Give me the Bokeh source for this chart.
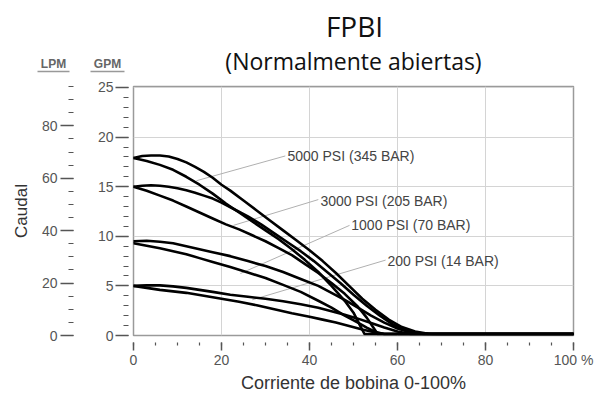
from bokeh.plotting import figure
from bokeh.layouts import column, row
from bokeh.models import LinearAxis, Range1d, SingleIntervalTicker
from bokeh.core.properties import value
from bokeh.embed import file_html
from bokeh.resources import INLINE

# ---- data (GPM vs coil current %) ----
x5000_up = [0, 2, 4, 6, 8, 10, 12, 14, 16, 18, 20, 22, 25, 28, 31, 34, 37, 40, 43, 46, 49, 52, 55, 58, 61, 64, 67, 70, 100]
y5000_up = [17.9, 18.1, 18.15, 18.15, 18.05, 17.8, 17.45, 17.0, 16.5, 15.9, 15.2, 14.6, 13.6, 12.6, 11.6, 10.6, 9.6, 8.6, 7.5, 6.3, 5.0, 3.7, 2.6, 1.6, 0.85, 0.4, 0.18, 0.15, 0.15]
x5000_dn = [0, 3, 6, 9, 12, 15, 18, 21, 24, 27, 30, 33, 36, 39, 42, 45, 48, 50, 51.5, 52.5, 100]
y5000_dn = [17.9, 17.6, 17.2, 16.7, 16.0, 15.2, 14.3, 13.3, 12.4, 11.5, 10.6, 9.7, 8.7, 7.6, 6.4, 5.0, 3.5, 2.3, 1.0, 0.15, 0.15]

x3000_up = [0, 2, 4, 6, 8, 10, 12, 14, 16, 18, 20, 23, 26, 29, 32, 35, 38, 41, 44, 47, 50, 53, 56, 59, 62, 65, 68, 100]
y3000_up = [15.0, 15.1, 15.15, 15.1, 15.0, 14.85, 14.65, 14.4, 14.1, 13.8, 13.4, 12.7, 12.0, 11.2, 10.3, 9.4, 8.5, 7.5, 6.4, 5.3, 4.1, 3.0, 2.0, 1.1, 0.5, 0.2, 0.15, 0.15]
x3000_dn = [0, 3, 6, 9, 12, 15, 18, 21, 24, 27, 30, 33, 36, 39, 42, 45, 48, 51, 53, 54.5, 55.5, 100]
y3000_dn = [15.0, 14.6, 14.1, 13.6, 13.0, 12.4, 11.8, 11.2, 10.7, 10.1, 9.5, 8.8, 8.1, 7.2, 6.3, 5.3, 4.2, 2.9, 1.8, 0.8, 0.15, 0.15]

x1000_up = [0, 3, 6, 9, 12, 15, 18, 22, 26, 30, 34, 38, 42, 45, 48, 51, 54, 57, 60, 63, 66, 100]
y1000_up = [9.5, 9.55, 9.45, 9.3, 9.0, 8.7, 8.4, 8.0, 7.5, 7.0, 6.4, 5.7, 5.0, 4.3, 3.6, 2.8, 2.0, 1.3, 0.7, 0.3, 0.15, 0.15]
x1000_dn = [0, 3, 6, 9, 12, 15, 18, 22, 26, 30, 34, 38, 42, 45, 48, 51, 53, 55, 57, 100]
y1000_dn = [9.3, 9.05, 8.8, 8.5, 8.2, 7.8, 7.4, 6.9, 6.35, 5.8, 5.1, 4.4, 3.5, 2.8, 2.0, 1.3, 0.8, 0.35, 0.15, 0.15]

x200_up = [0, 3, 6, 9, 12, 15, 18, 22, 26, 30, 34, 38, 42, 45, 48, 51, 54, 57, 60, 63, 100]
y200_up = [5.0, 5.05, 5.05, 4.95, 4.8, 4.6, 4.4, 4.1, 3.9, 3.7, 3.45, 3.15, 2.8, 2.45, 2.1, 1.7, 1.25, 0.8, 0.4, 0.15, 0.15]
x200_dn = [0, 3, 6, 9, 12, 16, 20, 24, 28, 32, 36, 40, 43, 46, 49, 52, 55, 57, 100]
y200_dn = [5.0, 4.8, 4.6, 4.45, 4.3, 4.0, 3.7, 3.4, 3.05, 2.65, 2.25, 1.9, 1.6, 1.3, 0.95, 0.6, 0.3, 0.15, 0.15]

curve_labels = ["5000 PSI (345 BAR)", "3000 PSI (205 BAR)", "1000 PSI (70 BAR)", "200 PSI (14 BAR)"]
label_x = [35.0, 42.5, 49.5, 57.7]
label_y = [18.05, 13.6, 11.1, 7.56]
leader_x0 = [14.3, 22.7, 24.3, 27.0]
leader_y0 = [15.6, 11.1, 6.25, 3.6]
leader_x1 = [34.5, 42.0, 49.1, 57.3]
leader_y1 = [18.1, 13.7, 11.1, 7.6]

x_tick_overrides = {100: "100 %"}

title_text = "FPBI"
subtitle_text = "(Normalmente abiertas)"
unit_headers = ["LPM", "GPM"]

GPM_TO_LPM = 3.785
Y_MAX = 25.1

GRAY = "#555555"
FONT = "Liberation Sans"
W = 598
HEAD_H = 78
MAIN_H = 317

# ---------- header strip (titles + unit headers) ----------
hdr = figure(width=W, height=HEAD_H, x_range=Range1d(0, W), y_range=Range1d(HEAD_H, 0),
             output_backend="svg", toolbar_location=None,
             min_border_left=0, min_border_right=0, min_border_top=0, min_border_bottom=0,
             border_fill_color="white")
hdr.axis.visible = False
hdr.grid.visible = False
hdr.outline_line_color = None
hdr.text(x=[354], y=[25], text=[title_text], text_align="center", text_baseline="middle",
         text_font=value("Open Sans"), text_font_size="28px", text_color="#111111")
hdr.text(x=[353], y=[60], text=[subtitle_text], text_align="center", text_baseline="middle",
         text_font=value("Open Sans"), text_font_size="23px", text_color="#111111")
hdr.text(x=[53, 107], y=[63, 63], text=unit_headers, text_align="center", text_baseline="middle",
         text_font=value(FONT), text_font_size="12px", text_font_style="bold", text_color="#666666")
hdr.segment(x0=[37, 90], y0=[71, 71], x1=[69, 124], y1=[71, 71], line_color="#999999", line_width=1.5)

# ---------- main chart ----------
p = figure(width=W, height=MAIN_H, x_range=Range1d(0, 100), y_range=Range1d(0, Y_MAX),
           output_backend="svg", toolbar_location=None,
           min_border_left=133, min_border_right=25, min_border_top=8, min_border_bottom=60,
           background_fill_color="white", border_fill_color="white")
p.outline_line_color = "#9a9a9a"
p.outline_line_width = 1.5

p.xgrid.ticker = SingleIntervalTicker(interval=20)
p.ygrid.ticker = SingleIntervalTicker(interval=5)
p.grid.grid_line_color = "#d4d4d4"
p.grid.grid_line_width = 1

xa = p.xaxis[0]
xa.ticker = SingleIntervalTicker(interval=20, num_minor_ticks=4)
xa.major_label_overrides = x_tick_overrides
xa.axis_line_color = None
xa.major_tick_in = -7
xa.major_tick_out = 15
xa.minor_tick_in = -7
xa.minor_tick_out = 10
xa.major_tick_line_color = GRAY
xa.minor_tick_line_color = GRAY
xa.major_tick_line_width = 1.5
xa.minor_tick_line_width = 1.2
xa.major_label_text_font = FONT
xa.major_label_text_font_size = "14px"
xa.major_label_text_color = GRAY
xa.major_label_standoff = 1
xa.axis_label = "Corriente de bobina 0-100%"
xa.axis_label_text_font = FONT
xa.axis_label_text_font_size = "18px"
xa.axis_label_text_font_style = "normal"
xa.axis_label_text_color = "#333333"
xa.axis_label_standoff = 2

ya = p.yaxis[0]
ya.ticker = SingleIntervalTicker(interval=5, num_minor_ticks=5)
ya.axis_line_color = None
ya.major_tick_in = -5
ya.major_tick_out = 18
ya.minor_tick_in = -5
ya.minor_tick_out = 10
ya.major_tick_line_color = GRAY
ya.minor_tick_line_color = GRAY
ya.major_tick_line_width = 1.5
ya.minor_tick_line_width = 1.2
ya.major_label_text_font = FONT
ya.major_label_text_font_size = "14px"
ya.major_label_text_color = GRAY
ya.major_label_standoff = 2

p.extra_y_ranges = {"lpm": Range1d(0, Y_MAX * GPM_TO_LPM)}
la = LinearAxis(y_range_name="lpm")
la.ticker = SingleIntervalTicker(interval=20, num_minor_ticks=4)
la.axis_line_color = None
la.major_tick_in = -21
la.major_tick_out = 34
la.minor_tick_in = -21
la.minor_tick_out = 26
la.major_tick_line_color = GRAY
la.minor_tick_line_color = GRAY
la.major_tick_line_width = 1.5
la.minor_tick_line_width = 1.2
la.major_label_text_font = FONT
la.major_label_text_font_size = "14px"
la.major_label_text_color = GRAY
la.major_label_standoff = 3
la.axis_label = "Caudal"
la.axis_label_text_font = FONT
la.axis_label_text_font_size = "17px"
la.axis_label_text_font_style = "normal"
la.axis_label_text_color = "#333333"
la.axis_label_standoff = 8
p.add_layout(la, "left")

p.segment(x0=leader_x0, y0=leader_y0, x1=leader_x1, y1=leader_y1, line_color="#b0b0b0", line_width=1)

for xs, ys in [(x5000_up, y5000_up), (x5000_dn, y5000_dn), (x3000_up, y3000_up), (x3000_dn, y3000_dn),
               (x1000_up, y1000_up), (x1000_dn, y1000_dn), (x200_up, y200_up), (x200_dn, y200_dn)]:
    p.line(xs, ys, line_color="black", line_width=2.6, line_join="round", line_cap="round")

p.text(x=label_x, y=label_y, text=curve_labels, text_align="left", text_baseline="middle",
       text_font=value(FONT), text_font_size="14px", text_color="#444444")

layout = column(row(hdr), p, spacing=0)
open("out.html", "w").write(file_html(layout, INLINE))
